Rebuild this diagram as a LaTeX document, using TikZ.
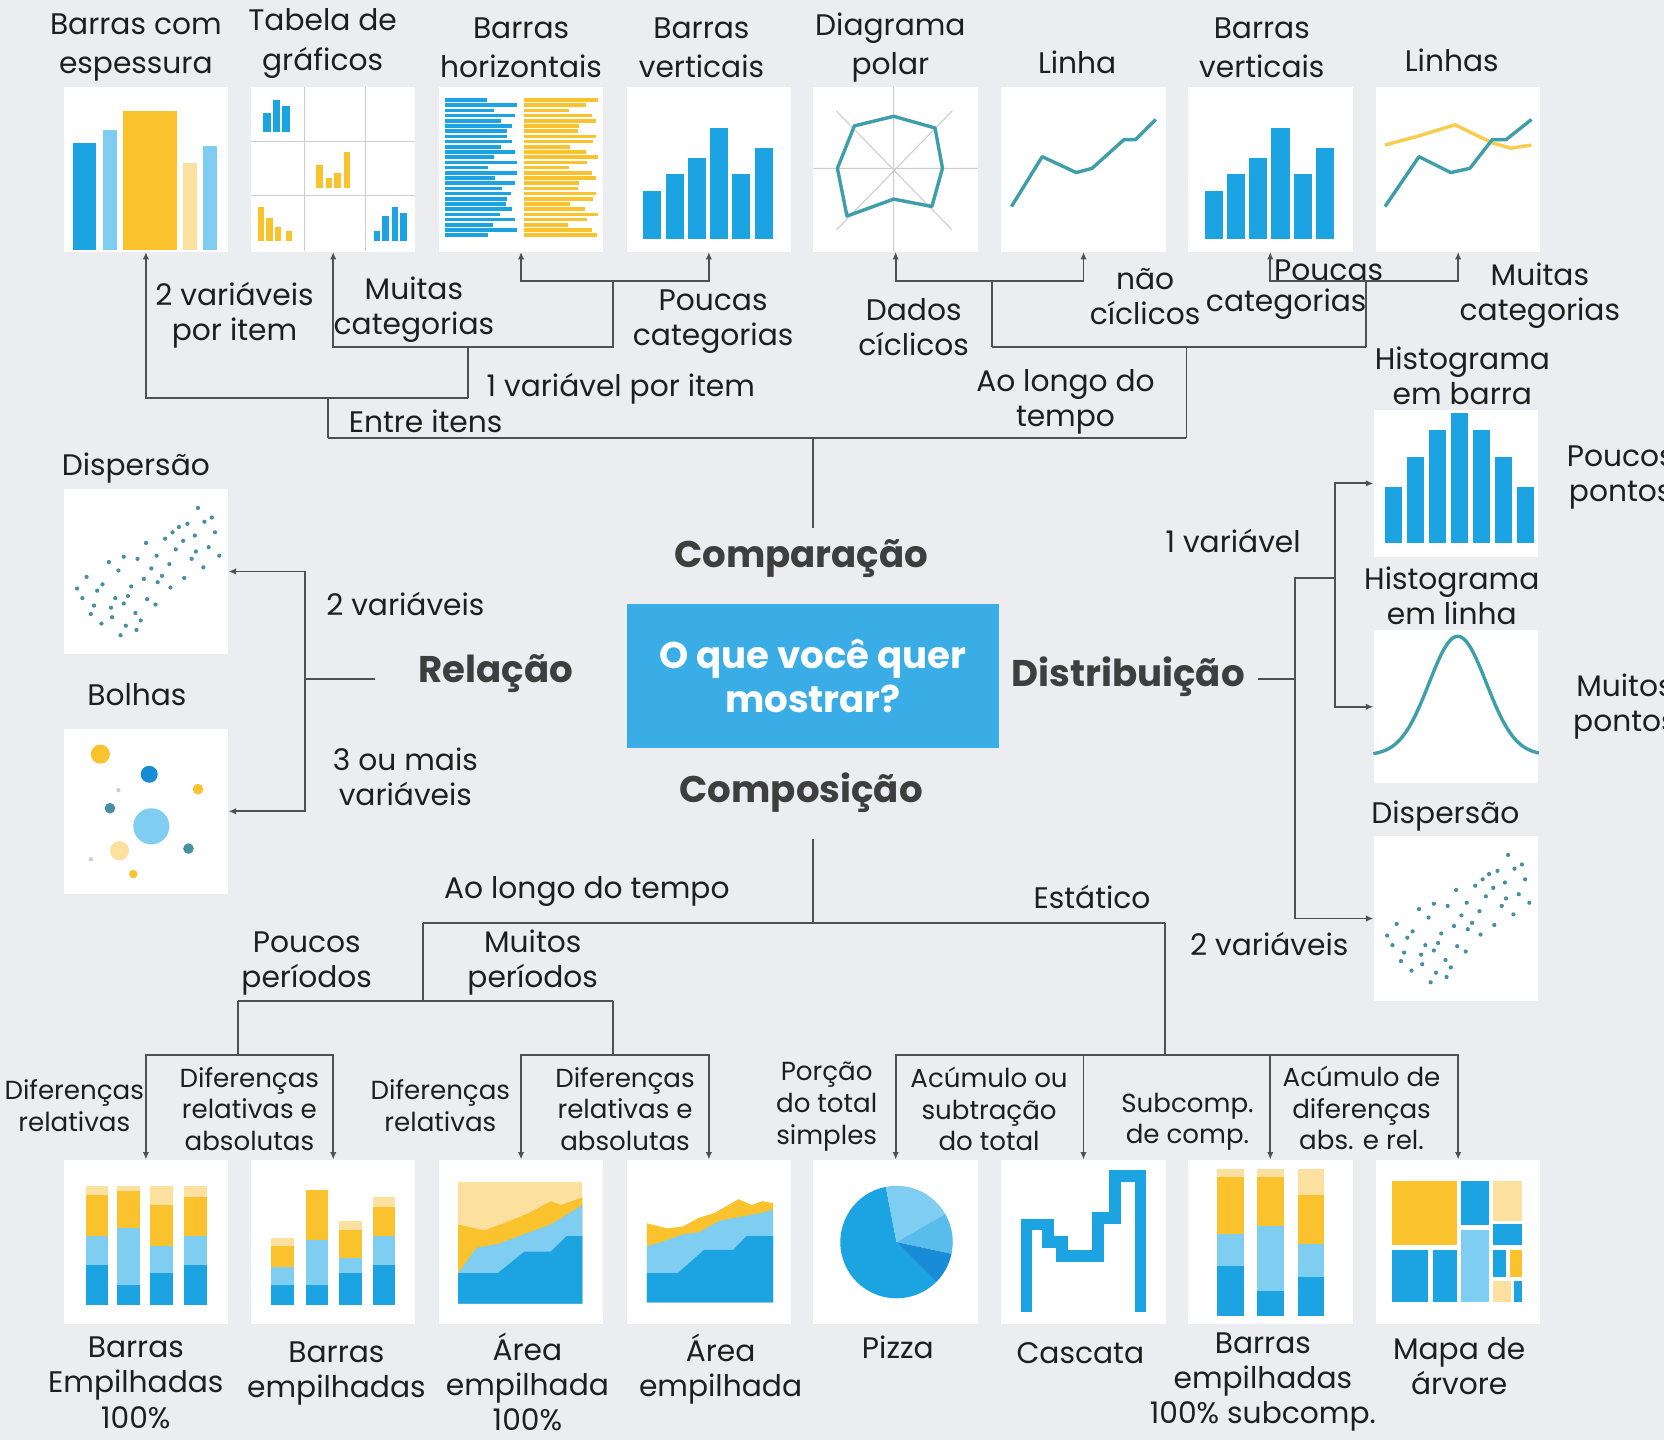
\documentclass[tikz,border=0pt]{standalone}
\usepackage{fontspec}
\setmainfont{Poppins}
\usetikzlibrary{arrows.meta}

\definecolor{bgc}{RGB}{236,237,240}
\definecolor{bblue}{RGB}{27,163,226}
\definecolor{lblue}{RGB}{128,205,242}
\definecolor{mblue}{RGB}{88,188,236}
\definecolor{dblue}{RGB}{25,140,215}
\definecolor{yel}{RGB}{250,195,45}
\definecolor{pyel}{RGB}{252,224,160}
\definecolor{tealc}{RGB}{62,158,170}
\definecolor{dotc}{RGB}{70,145,160}
\definecolor{linec}{RGB}{80,80,80}
\definecolor{txtc}{RGB}{30,30,30}
\definecolor{catc}{RGB}{62,62,62}
\definecolor{boxc}{RGB}{58,173,230}
\definecolor{gridc}{RGB}{205,205,205}

\tikzstyle{thumb}=[fill=white,minimum width=77.5pt,minimum height=77.5pt,inner sep=0pt]
\tikzstyle{conn}=[draw=linec,line width=0.9pt]
\tikzstyle{arr}=[conn,-{Latex[length=3.5pt,width=3pt]}]
\tikzstyle{lbl}=[font=\fontsize{14}{16.5}\selectfont,align=center,text=txtc,inner sep=0pt]
\tikzstyle{ttl}=[lbl,font=\fontsize{14}{18.5}\selectfont]
\tikzstyle{sublbl}=[lbl,font=\fontsize{12.3}{15}\selectfont]
\tikzstyle{cat}=[font=\bfseries\fontsize{17.5}{21}\selectfont,text=catc,inner sep=0pt]
\tikzstyle{askbox}=[fill=boxc,text=white,font=\bfseries\fontsize{17.5}{21}\selectfont,align=center,minimum width=175.5pt,minimum height=68pt]

% vertical bars, drawn twice
\newcommand{\vbarchart}{%
  \foreach \x/\h in {16/98,37/82,58/67,79/39,100/82,121/58}
    \fill[bblue] (\x,144) rectangle (\x+17,\h);}
% scatter cloud, drawn twice
\newcommand{\scatterdots}{%
  \foreach \pt in {(127,18),(140,27),(117,33),(109,36),(133,31),(124,44),(143,41),(113,49),(103,41),(137,55),
      (125,59),(106,57),(96,47),(88,63),(121,66),(100,71),(83,75),(93,82),(78,51),(70,66),(57,64),(76,85),
      (64,92),(89,88),(52,77),(61,101),(43,69),(37,90),(49,103),(32,96),(22,83),(13,94),(29,110),(45,112),
      (57,108),(68,117),(46,121),(36,127),(59,129),(73,124),(26,118),(18,103),(79,104),(101,93),(114,84),
      (132,74),(147,63),(87,109),(54,138),(69,133)}
    \fill[dotc] \pt circle (1pt);}
% one stacked bar: x, width, top, pale, yellow, light blue, bottom
\newcommand{\stackbar}[7]{%
  \fill[pyel] (#1,#3) rectangle (#1+#2,#4);
  \fill[yel] (#1,#4) rectangle (#1+#2,#5);
  \fill[lblue] (#1,#5) rectangle (#1+#2,#6);
  \fill[bblue] (#1,#6) rectangle (#1+#2,#7);}

\begin{document}
\begin{tikzpicture}[x=0.5pt, y=-0.5pt]
    \fill[bgc] (0,0) rectangle (1568,1357);
    \useasboundingbox (0,0) rectangle (1568,1357);

    % First we draw the chart boxes
    \foreach \pos/\name in {{(137.5,159.5)/espessura}, {(314,159.5)/tabela}, {(491,159.5)/horiz},
        {(668,159.5)/vert}, {(844,159.5)/polar}, {(1021,159.5)/linha}, {(1197,159.5)/vert2},
        {(1374,159.5)/linhas}, {(137.5,538.5)/disp}, {(137.5,764.5)/bolhas}, {(1372,865.5)/disp2},
        {(137.5,1170.5)/emp100}, {(314,1170.5)/emp}, {(491,1170.5)/area100}, {(668,1170.5)/area},
        {(844,1170.5)/pizza}, {(1021,1170.5)/cascata}, {(1197,1170.5)/emp100s}, {(1374,1170.5)/arvore}}
        \node[thumb] (\name) at \pos {};
    \node[thumb, minimum height=69.5pt] (histb) at (1372,455.5) {};
    \node[thumb, minimum height=72pt] (histl) at (1372,666) {};

    % Then the little charts inside them
    \begin{scope}[shift={(espessura.north west)}]
        \fill[bblue] (9,154) rectangle (31,53);
        \fill[lblue] (37,154) rectangle (51,41);
        \fill[yel] (56,154) rectangle (107,23);
        \fill[pyel] (113,154) rectangle (126,72);
        \fill[lblue] (132,154) rectangle (145,56);
    \end{scope}
    \begin{scope}[shift={(tabela.north west)}]
        \draw[gridc, line width=0.5pt] (51,0) -- (51,155) (108,0) -- (108,155) (0,52) -- (155,52) (0,103) -- (155,103);
        \foreach \x/\h in {12/25,21/13,30/18}
            \fill[bblue] (\x,43) rectangle (\x+7,\h);
        \foreach \x/\h in {62/74,71/86,79/81,88/62}
            \fill[yel] (\x,95.5) rectangle (\x+6,\h);
        \foreach \x/\h in {7/113,15/124,23/132,33/136}
            \fill[yel] (\x,145.7) rectangle (\x+6,\h);
        \foreach \x/\h in {116/136,124/122,133/113,141/119}
            \fill[bblue] (\x,145.7) rectangle (\x+6,\h);
    \end{scope}
    \begin{scope}[shift={(horiz.north west)}]
        \foreach \i in {0,...,26} {
            \fill[bblue] (6,{11+\i*4.9}) rectangle ++({40+28*abs(sin(\i*97))},3.4);
            \fill[yel] (81,{11+\i*4.9}) rectangle ++({38+31*abs(cos(\i*131))},3.4);
        }
    \end{scope}
    \begin{scope}[shift={(vert.north west)}]
        \vbarchart
    \end{scope}
    \begin{scope}[shift={(vert2.north west)}]
        \vbarchart
    \end{scope}
    \begin{scope}[shift={(polar.north west)}]
        \draw[gridc, line width=0.5pt] (76,0) -- (76,155) (0,77) -- (155,77) (22,23) -- (131,135) (131,23) -- (22,135);
        \draw[tealc, line width=1.6pt, line join=round] (76,28) -- (115,39) -- (122,77) -- (112,113) -- (76,106) -- (32,122) -- (23,77) -- (39,37) -- cycle;
    \end{scope}
    \begin{scope}[shift={(linha.north west)}]
        \draw[tealc, line width=1.6pt, line join=round] (10,113) -- (39,66) -- (71,81) -- (86,77) -- (116,50) -- (127,50) -- (146,31);
    \end{scope}
    \begin{scope}[shift={(linhas.north west)}]
        \draw[yel!85!white, line width=1.6pt, line join=round] (9,55) -- (39,47) -- (75,36) -- (110,53) -- (128,58) -- (147,55);
        \draw[tealc, line width=1.6pt, line join=round] (9,113) -- (41,66) -- (71,81) -- (89,77) -- (110,50) -- (123,50) -- (147,31);
    \end{scope}
    \begin{scope}[shift={(disp.north west)}]
        \scatterdots
    \end{scope}
    \begin{scope}[shift={(disp2.north west)}]
        \scatterdots
    \end{scope}
    \begin{scope}[shift={(bolhas.north west)}]
        \fill[yel] (35,24) circle (4.5pt);
        \fill[dblue] (81,43) circle (4pt);
        \fill[yel] (127,57) circle (2.5pt);
        \fill[dotc] (44,75) circle (2.5pt);
        \fill[lblue] (83,92) circle (8.5pt);
        \fill[pyel] (53,115) circle (4.5pt);
        \fill[dotc] (118,113) circle (2.5pt);
        \fill[gridc] (26,123) circle (1pt);
        \fill[gridc] (52,58) circle (1pt);
        \fill[yel] (66,137) circle (2pt);
    \end{scope}
    \begin{scope}[shift={(histb.north west)}]
        \foreach \i/\h in {0/73,1/45,2/20,3/4,4/20,5/45,6/73}
            \fill[bblue] ({10.6+20.8*\i},126) rectangle ({26.6+20.8*\i},\h);
    \end{scope}
    \begin{scope}[shift={(histl.north west)}]
        \draw[tealc, line width=1.6pt] plot[domain=0:156, samples=80] (\x,{118-112*exp(-((\x-79.5)^2)/1458)});
    \end{scope}
    \begin{scope}[shift={(emp100.north west)}]
        \stackbar{21}{21}{24.6}{33.8}{72.2}{99}{137.2}
        \stackbar{51}{21}{24.6}{30}{64.9}{118.1}{137.2}
        \stackbar{82}{21}{24.6}{42.9}{81.4}{107.1}{137.2}
        \stackbar{114}{21}{24.6}{35.6}{72.2}{99}{137.2}
    \end{scope}
    \begin{scope}[shift={(emp.north west)}]
        \stackbar{19}{22}{74.1}{81.4}{101.6}{118.1}{137.2}
        \stackbar{52}{21}{28.3}{28.3}{75.9}{118.1}{137.2}
        \stackbar{83}{22}{57.6}{66.7}{92.4}{107.1}{137.2}
        \stackbar{115}{21}{35.6}{44.8}{72.2}{99.7}{137.2}
    \end{scope}
    \begin{scope}[shift={(area100.north west)}]
        \fill[pyel] (18.5,20.9) rectangle (135.7,135.7);
        \fill[yel] (18.5,135.7) -- (18.5,61.2) -- (43.4,66.8) -- (63.4,59.4) -- (85.8,50.2) -- (105.8,39.3) -- (115.7,42.9) -- (135.7,35.6) -- (135.7,135.7) -- cycle;
        \fill[lblue] (18.5,135.7) -- (18.5,107.1) -- (36,83.2) -- (55.9,79.6) -- (80.8,70.4) -- (105.8,61.2) -- (135.7,42.9) -- (135.7,135.7) -- cycle;
        \fill[bblue] (18.5,135.7) -- (18.5,107.1) -- (55.9,107.1) -- (80.8,86.9) -- (105.8,86.9) -- (120.7,72.2) -- (135.7,72.2) -- (135.7,135.7) -- cycle;
    \end{scope}
    \begin{scope}[shift={(area.north west)}]
        \fill[yel] (19.5,134.6) -- (19.5,60.1) -- (38.5,64.9) -- (53.5,63.1) -- (68.4,55) -- (83.4,50.2) -- (105.8,37.4) -- (118.3,42.9) -- (128.3,39.2) -- (138.3,41.1) -- (138.3,134.6) -- cycle;
        \fill[lblue] (19.5,134.6) -- (19.5,81.4) -- (33.5,77.8) -- (53.5,70.4) -- (68.4,68.6) -- (88.4,57.6) -- (108.3,53.9) -- (128.3,50.2) -- (138.3,47) -- (138.3,134.6) -- cycle;
        \fill[bblue] (19.5,134.6) -- (19.5,107.1) -- (48.5,107.1) -- (73.4,85.1) -- (100.8,85.1) -- (113.3,72.2) -- (138.3,72.2) -- (138.3,134.6) -- cycle;
    \end{scope}
    \begin{scope}[shift={(pizza.north west)}]
        \coordinate (pc) at (78.7,77.8);
        \fill[bblue] (pc) -- ++(101:26.5pt) arc[start angle=101, end angle=315, radius=26.5pt] -- cycle;
        \fill[lblue] (pc) -- ++(30:26.5pt) arc[start angle=30, end angle=101, radius=26.5pt] -- cycle;
        \fill[mblue] (pc) -- ++(-12:26.5pt) arc[start angle=-12, end angle=30, radius=26.5pt] -- cycle;
        \fill[dblue] (pc) -- ++(-45:26.5pt) arc[start angle=-45, end angle=-12, radius=26.5pt] -- cycle;
    \end{scope}
    \begin{scope}[shift={(cascata.north west)}]
        \draw[bblue, line width=5.5pt] (24.2,143.8) -- (24.2,61.2) -- (44.4,61.2) -- (44.4,77.8) -- (57.4,77.8) -- (57.4,90.6) -- (91.7,90.6) -- (91.7,55) -- (107.3,55) -- (107.3,15.4) -- (131.7,15.4) -- (131.7,143.8);
    \end{scope}
    \begin{scope}[shift={(emp100s.north west)}]
        \stackbar{27.8}{25}{9.2}{16.5}{70.4}{100.5}{147.4}
        \stackbar{65.7}{25}{9.2}{16.5}{63.1}{124.3}{147.4}
        \stackbar{103.6}{25}{9.2}{33.8}{79.6}{110.7}{147.4}
    \end{scope}
    \begin{scope}[shift={(arvore.north west)}]
        \fill[yel] (15.9,20.2) rectangle (77.2,80.3);
        \fill[bblue] (80.9,20.2) rectangle (106.8,62);
        \fill[pyel] (110.4,20.2) rectangle (137.9,57.6);
        \fill[bblue] (110.4,60.5) rectangle (137.9,80.7);
        \fill[bblue] (15.9,85.1) rectangle (49.7,134.6);
        \fill[bblue] (53.8,85.1) rectangle (77.2,134.6);
        \fill[lblue] (80.9,66.7) rectangle (106.8,134.6);
        \fill[bblue] (110.4,85.1) rectangle (123.4,110.7);
        \fill[yel] (126.5,85.1) rectangle (137.9,110.7);
        \fill[pyel] (110.4,114.4) rectangle (127.6,134.6);
        \fill[bblue] (130.2,114.4) rectangle (137.9,134.6);
    \end{scope}

    % The centre and the four groups
    \node[askbox] (ask) at (766,637) {O que você quer\\mostrar?};
    \node[cat] (comp) at (755,526) {Comparação};
    \node[cat] (compo) at (755,747) {Composição};
    \node[cat] (rel) at (467,635) {Relação};
    \node[cat] (dist) at (1063,638) {Distribuição};

    % Names of the charts
    \node[ttl] (n1) at (128,45) {Barras com\\espessura};
    \node[ttl] (n2) at (304,41) {Tabela de\\gráficos};
    \node[ttl] (n3) at (491,45) {Barras\\horizontais};
    \node[ttl] (n4) at (661,45) {Barras\\verticais};
    \node[ttl] (n5) at (839,45) {Diagrama\\polar};
    \node[ttl] (n6) at (1015,59) {Linha};
    \node[ttl] (n7) at (1189,45) {Barras\\verticais};
    \node[ttl] (n8) at (1368,57) {Linhas};
    \node[lbl] (nd1) at (128,441) {Dispersão};
    \node[lbl] (nbo) at (129,655) {Bolhas};
    \node[lbl] (nhb) at (1378,354) {Histograma\\em barra};
    \node[lbl] (nhl) at (1368,561) {Histograma\\em linha};
    \node[lbl] (nd2) at (1362,769) {Dispersão};
    \node[lbl] (b1) at (128,1303) {Barras\\Empilhadas\\100\%};
    \node[lbl] (b2) at (317,1294) {Barras\\empilhadas};
    \node[lbl] (b3) at (497,1302) {Área\\empilhada\\100\%};
    \node[lbl] (b4) at (679,1290) {Área\\empilhada};
    \node[lbl] (b5) at (846,1270) {Pizza};
    \node[lbl] (b6) at (1018,1275) {Cascata};
    \node[lbl] (b7) at (1190,1302) {Barras\\empilhadas\\100\% subcomp.};
    \node[lbl] (b8) at (1375,1287) {Mapa de\\árvore};

    % Branch labels
    \node[lbl] (c1) at (221,297) {2 variáveis\\por item};
    \node[lbl] (c2) at (390,292) {Muitas\\categorias};
    \node[lbl] (c3) at (672,303) {Poucas\\categorias};
    \node[lbl] (c4) at (585,366) {1 variável por item};
    \node[lbl] (c5) at (401,397) {Entre itens};
    \node[lbl] (c6) at (861,308) {Dados\\cíclicos};
    \node[lbl] (c7) at (1079,279) {não\\cíclicos};
    \node[lbl] (c8a) at (1252,255) {Poucas};
    \node[lbl] (c8b) at (1212,287) {categorias};
    \node[lbl] (c9) at (1451,279) {Muitas\\categorias};
    \node[lbl] (c10) at (1004,379) {Ao longo do\\tempo};
    \node[lbl] (r1) at (382,569) {2 variáveis};
    \node[lbl] (r2) at (382,732) {3 ou mais\\variáveis};
    \node[lbl] (d1) at (1162,510) {1 variável};
    \node[lbl] (d2) at (1196,890) {2 variáveis};
    \node[lbl, anchor=west] (d3) at (1476,450) {Poucos\\pontos};
    \node[lbl, anchor=west] (d4) at (1482,666) {Muitos\\pontos};
    \node[lbl] (p1) at (553,840) {Ao longo do tempo};
    \node[lbl] (p2) at (1029,845) {Estático};
    \node[lbl] (p3) at (289,908) {Poucos\\períodos};
    \node[lbl] (p4) at (502,907) {Muitos\\períodos};
    \node[sublbl] (s1) at (70,1042) {Diferenças\\relativas};
    \node[sublbl] (s2) at (235,1045) {Diferenças\\relativas e\\absolutas};
    \node[sublbl] (s3) at (415,1042) {Diferenças\\relativas};
    \node[sublbl] (s4) at (589,1045) {Diferenças\\relativas e\\absolutas};
    \node[sublbl] (s5) at (779,1043) {Porção\\do total\\simples};
    \node[sublbl] (s6) at (932,1045) {Acúmulo ou\\subtração\\do total};
    \node[sublbl] (s7) at (1119,1057) {Subcomp.\\de comp.};
    \node[sublbl] (s8) at (1283,1044) {Acúmulo de\\diferenças\\abs. e rel.};

    % Junctions of the trees
    \coordinate (jC) at (766,413);
    \coordinate (jEntre) at (309,413);
    \coordinate (jTempo) at (1118,413);
    \coordinate (eA) at (309,375);
    \coordinate (eB) at (441,375);
    \coordinate (mA) at (441,327);
    \coordinate (mB) at (578,327);
    \coordinate (pA) at (578,265);
    \coordinate (tA) at (1118,327);
    \coordinate (cA) at (935,327);
    \coordinate (cB) at (1287,327);
    \coordinate (cA2) at (935,265);
    \coordinate (cB2) at (1287,265);
    \coordinate (jD) at (766,870);
    \coordinate (jTime) at (399,870);
    \coordinate (jStat) at (1098,870);
    \coordinate (pM) at (399,943);
    \coordinate (pL) at (224,943);
    \coordinate (pR) at (578,943);
    \coordinate (pL2) at (224,994);
    \coordinate (pR2) at (578,994);
    \coordinate (sA) at (1098,994);
    \coordinate (jR) at (287,640);
    \coordinate (jDi) at (1220,640);
    \coordinate (jDv) at (1220,545);
    \coordinate (jDw) at (1258,545);

    % Comparison tree
    \draw[conn, shorten <=5pt] (comp.north -| jC) -- (jC);
    \draw[conn] (jEntre) -- (jTempo);
    \draw[conn] (jEntre) -- (eA);
    \draw[arr] (eB) -| (espessura.south);
    \draw[conn] (eB) -- (mA);
    \draw[arr] (mA) -| (tabela.south);
    \draw[conn] (mA) -- (mB) -- (pA);
    \draw[conn] (jTempo) -- (tA);
    \draw[conn] (cA) -- (cB);
    \draw[conn] (cA) -- (cA2);
    \draw[conn] (cB) -- (cB2);
    \foreach \j/\b in {pA/horiz, pA/vert, cA2/polar, cA2/linha, cB2/vert2, cB2/linhas}
        \draw[arr] (\j) -| (\b.south);

    % Composition tree
    \draw[conn, shorten <=12pt] (compo.south -| jD) -- (jD);
    \draw[conn] (jTime) -- (jStat);
    \draw[conn] (jTime) -- (pM);
    \draw[conn] (pL) -- (pR);
    \draw[conn] (pL) -- (pL2);
    \draw[conn] (pR) -- (pR2);
    \draw[conn] (jStat) -- (sA);
    \foreach \j/\b in {pL2/emp100, pL2/emp, pR2/area100, pR2/area, sA/pizza, sA/cascata, sA/emp100s, sA/arvore}
        \draw[arr] (\j) -| (\b.north);

    % Relation and distribution
    \draw[conn, shorten <=20pt] (rel.west |- jR) -- (jR);
    \draw[arr] (jR) |- (disp.east);
    \draw[arr] (jR) |- (bolhas.east);
    \draw[conn, shorten <=6pt] (dist.east |- jDi) -- (jDi);
    \draw[conn] (jDi) -- (jDv) -- (jDw);
    \draw[arr] (jDw) |- (histb.west);
    \draw[arr] (jDw) |- (histl.west);
    \draw[arr] (jDi) |- (disp2.west);
\end{tikzpicture}
\end{document}
